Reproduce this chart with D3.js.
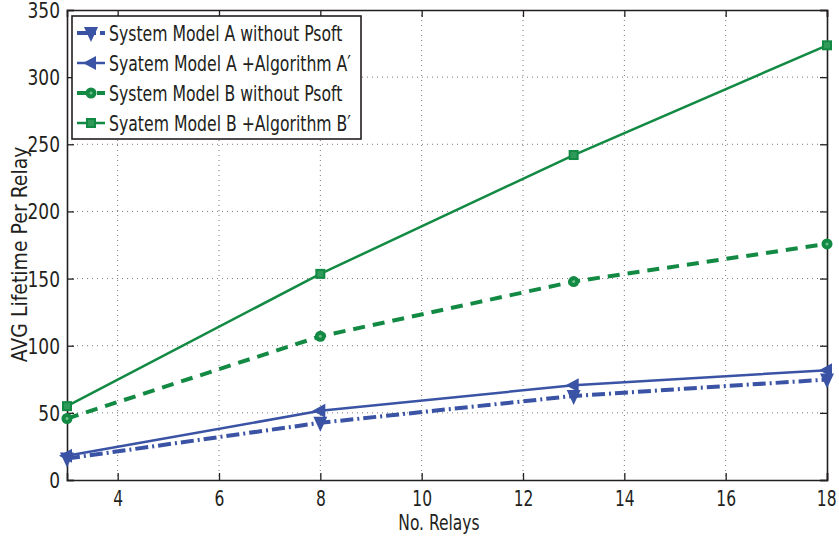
<html>
<head>
  <script src="https://cdn.jsdelivr.net/npm/d3@7/dist/d3.min.js"></script>
</head>
<style>
  body { margin: 0; background: #fff; }
  text { font-family: "DejaVu Sans Condensed", sans-serif; fill: #231f20; }
</style>
<body>
  <svg id="chart"></svg>
  <script type="text/javascript">
    // data
    var relays = [3, 8, 13, 18];
    var aWithout = [16, 42.6, 62.6, 74.8];
    var aAlg = [18, 51.5, 70.6, 81.7];
    var bWithout = [45.8, 107, 147.8, 175.8];
    var bAlg = [55, 153.5, 242, 323.7];
    var xTicks = [4, 6, 8, 10, 12, 14, 16, 18];
    var yTicks = [0, 50, 100, 150, 200, 250, 300, 350];
    var names = ['System Model A without Psoft', 'Syatem Model A +Algorithm A\u2032',
                 'System Model B without Psoft', 'Syatem Model B +Algorithm B\u2032'];

    var blue = '#3a53a4', green = '#138a43';
    var margin = { top: 10, left: 67, bottom: 62, right: 12 };
    var W = 839, H = 542;
    var width = W - margin.left - margin.right;
    var height = H - margin.top - margin.bottom;

    // squeeze text horizontally (the original font is narrower)
    function squeeze(sel, k) {
      sel.each(function () {
        var len = this.getComputedTextLength();
        d3.select(this).attr('textLength', len * k).attr('lengthAdjust', 'spacingAndGlyphs');
      });
    }

    var svg = d3.select('#chart').attr('width', W).attr('height', H)
      .append('g')
      .attr('transform', 'translate(' + margin.left + ',' + margin.top + ')');

    var x = d3.scaleLinear().domain([3, 18]).range([0, width]);
    var y = d3.scaleLinear().domain([0, 350]).range([height, 0]);

    // grid
    svg.append('g').selectAll('line').data(xTicks.slice(0, -1)).enter().append('line')
      .attr('x1', function (d) { return x(d); }).attr('x2', function (d) { return x(d); })
      .attr('y1', 0).attr('y2', height)
      .attr('stroke', '#777').attr('stroke-width', 1).attr('stroke-dasharray', '1,4');
    svg.append('g').selectAll('line').data(yTicks.slice(1, -1)).enter().append('line')
      .attr('y1', function (d) { return y(d); }).attr('y2', function (d) { return y(d); })
      .attr('x1', 0).attr('x2', width)
      .attr('stroke', '#777').attr('stroke-width', 1).attr('stroke-dasharray', '1,4');

    // axes, ticks inward
    var fs = 21;
    var xb = svg.append('g').attr('transform', 'translate(0,' + height + ')')
      .call(d3.axisBottom(x).tickValues(xTicks).tickSize(-7).tickPadding(11).tickFormat(d3.format('d')));
    var xt = svg.append('g')
      .call(d3.axisTop(x).tickValues(xTicks).tickSize(-7).tickFormat(''));
    var yl = svg.append('g')
      .call(d3.axisLeft(y).tickValues(yTicks).tickSize(-7).tickPadding(7));
    var yr = svg.append('g').attr('transform', 'translate(' + width + ',0)')
      .call(d3.axisRight(y).tickValues(yTicks).tickSize(-7).tickFormat(''));
    [xb, xt, yl, yr].forEach(function (g) {
      g.select('.domain').attr('stroke', '#231f20').attr('stroke-width', 1.6);
      g.selectAll('.tick line').attr('stroke', '#231f20').attr('stroke-width', 1.3);
      g.selectAll('text').attr('font-size', fs).attr('font-family', null).style('fill', '#231f20');
    });
    yl.selectAll('.tick text').attr('dy', '0.36em');
    squeeze(xb.selectAll('.tick text'), 0.82);
    squeeze(yl.selectAll('.tick text'), 0.9);
    // last x label sits at the page edge
    xb.selectAll('.tick text').filter(function (d) { return d === 18; })
      .attr('text-anchor', 'end').attr('x', 9);

    // axis titles
    var xTitle = svg.append('text').attr('x', x(10.34)).attr('y', height + 50)
      .attr('text-anchor', 'middle').attr('font-size', fs).text('No. Relays');
    squeeze(xTitle, 0.82);
    svg.append('text').attr('transform', 'rotate(-90)')
      .attr('x', -y(168)).attr('y', -40)
      .attr('text-anchor', 'middle').attr('font-size', fs).text('AVG Lifetime Per Relay');

    var series = [
      { vals: aWithout, color: blue, w: 4, dash: '13,4,2,4', marker: 'down' },
      { vals: aAlg, color: blue, w: 2.5, dash: null, marker: 'left' },
      { vals: bWithout, color: green, w: 4, dash: '12,8', marker: 'circle' },
      { vals: bAlg, color: green, w: 2.5, dash: null, marker: 'square' }
    ];

    var line = d3.line()
      .x(function (d) { return x(d[0]); })
      .y(function (d) { return y(d[1]); });

    function drawMarker(g, type, color, cx, cy) {
      if (type === 'down') {
        g.append('path').attr('d', 'M' + (cx - 7) + ',' + (cy - 6) + 'L' + (cx + 7) + ',' + (cy - 6) + 'L' + cx + ',' + (cy + 9) + 'Z')
          .attr('fill', color);
      } else if (type === 'left') {
        g.append('path').attr('d', 'M' + (cx - 8) + ',' + cy + 'L' + (cx + 5) + ',' + (cy - 7) + 'L' + (cx + 5) + ',' + (cy + 7) + 'Z')
          .attr('fill', color);
      } else if (type === 'circle') {
        g.append('circle').attr('cx', cx).attr('cy', cy).attr('r', 5.5).attr('fill', color);
        g.append('circle').attr('cx', cx).attr('cy', cy).attr('r', 1.5).attr('fill', '#6fbf8c');
      } else {
        g.append('rect').attr('x', cx - 4).attr('y', cy - 4).attr('width', 8).attr('height', 8)
          .attr('fill', '#2f9a5a').attr('stroke', color).attr('stroke-width', 2);
      }
    }

    series.forEach(function (s) {
      var pts = relays.map(function (r, i) { return [r, s.vals[i]]; });
      svg.append('path').attr('d', line(pts))
        .attr('fill', 'none').attr('stroke', s.color).attr('stroke-width', s.w)
        .attr('stroke-dasharray', s.dash);
      var mg = svg.append('g');
      pts.forEach(function (p) { drawMarker(mg, s.marker, s.color, x(p[0]), y(p[1])); });
    });

    // legend
    var lg = svg.append('g').attr('transform', 'translate(5,6)');
    lg.append('rect').attr('width', 289).attr('height', 123)
      .attr('fill', '#fff').attr('stroke', '#231f20').attr('stroke-width', 1.6);
    series.forEach(function (s, i) {
      var cy = 17 + i * 30;
      lg.append('line').attr('x1', 5).attr('x2', 33).attr('y1', cy).attr('y2', cy)
        .attr('stroke', s.color).attr('stroke-width', s.w).attr('stroke-dasharray', s.dash);
      drawMarker(lg, s.marker, s.color, 19, cy);
      var t = lg.append('text').attr('x', 37).attr('y', cy).attr('dy', '0.36em')
        .attr('font-size', fs).text(names[i]);
      squeeze(t, 0.83);
    });
  </script>
</body>
</html>
